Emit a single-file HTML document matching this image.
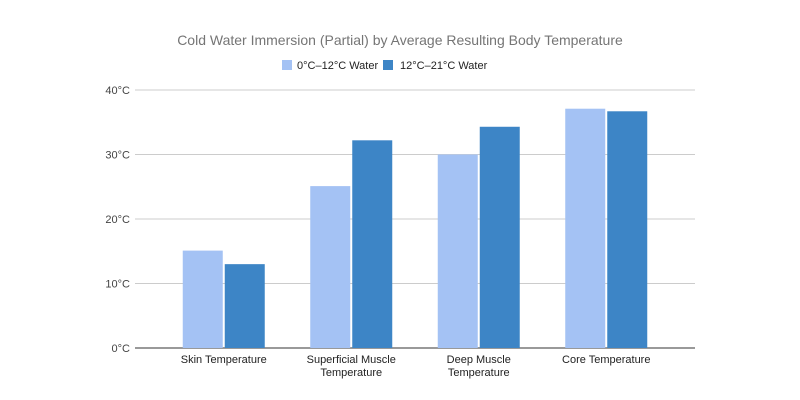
<!DOCTYPE html>
<html><head><meta charset="utf-8"><style>
body{margin:0;background:#fff}
svg{display:block;font-family:"Liberation Sans",Arial,sans-serif}
</style></head><body>
<svg id="chart" width="800" height="400" viewBox="0 0 800 400">
<rect width="800" height="400" fill="#fff"/>
<text x="400" y="45" text-anchor="middle" font-size="14" fill="#757575">Cold Water Immersion (Partial) by Average Resulting Body Temperature</text>
<g>
<g><rect x="282" y="60" width="10" height="10" fill="#a4c2f4"/><text x="297" y="69" font-size="11" fill="#222">0°C–12°C Water</text></g>
<g><rect x="383" y="60" width="10" height="10" fill="#3d85c6"/><text x="400" y="69" font-size="11" fill="#222">12°C–21°C Water</text></g>
</g>
<g id="grid"></g>
<g id="bars"></g>
<g id="xlabels"></g>
</svg>
<script>
const categories=[["Skin Temperature"],["Superficial Muscle","Temperature"],["Deep Muscle","Temperature"],["Core Temperature"]];
const coldValues=[15.1,25.1,30.0,37.1];
const coolValues=[13.0,32.2,34.3,36.7];
const yTicks=[0,10,20,30,40];
const tickLabels=["0°C","10°C","20°C","30°C","40°C"];
const NS="http://www.w3.org/2000/svg";
const y0=348,y1=90,yMax=40,xL=160,xR=670,gL=135,gR=695;
const y=v=>y0-(v/yMax)*(y0-y1);
const band=(xR-xL)/categories.length;
const xc=i=>xL+band*(i+0.5);
function mk(t,a,p){const e=document.createElementNS(NS,t);for(const k in a)e.setAttribute(k,a[k]);p.appendChild(e);return e;}
const grid=document.getElementById('grid');
yTicks.forEach((t,i)=>{
 const l=mk('line',{x1:gL,x2:gR,y1:y(t),y2:y(t),stroke:i===0?'#333':'#ccc','stroke-width':1},grid);
 
 
 const tx=mk('text',{x:gL-5,y:y(t)+4,'text-anchor':'end','font-size':11,fill:'#444'},grid);
 tx.textContent=tickLabels[i];
 
 
});
const bars=document.getElementById('bars');
const bw=40;
categories.forEach((c,i)=>{
 const a=mk('rect',{x:xc(i)-bw-1,y:y(coldValues[i]),width:bw,height:y0-y(coldValues[i]),fill:'#a4c2f4'},bars);
 
 
 const b=mk('rect',{x:xc(i)+1,y:y(coolValues[i]),width:bw,height:y0-y(coolValues[i]),fill:'#3d85c6'},bars);
 
 
 const xl=document.getElementById('xlabels');
 c.forEach((line,j)=>{
  const t=mk('text',{x:xc(i),y:363+j*13,'text-anchor':'middle','font-size':11,fill:'#222'},xl);
  t.textContent=line;
  
  
 });
});
</script>
</body></html>
